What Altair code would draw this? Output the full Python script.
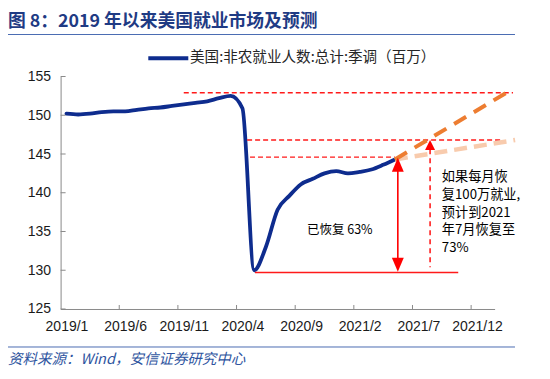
import altair as alt
import pandas as pd

# ---- data ----
months = list(range(29))  # month index, 0 = first point on the axis
employment = [150.2, 150.1, 150.2, 150.4, 150.5, 150.5, 150.7, 150.9, 151.0,
              151.2, 151.4, 151.6, 151.8, 152.2, 152.5, 150.9, 130.0, 133.0,
              137.8, 139.6, 141.1, 141.8, 142.5, 142.8, 142.5, 142.7, 143.0,
              143.6, 144.3]
tick_label_pos = [0, 5, 10, 15, 20, 25, 30, 35]
tick_labels = ["2019/1", "2019/6", "2019/11", "2020/4", "2020/9", "2021/2", "2021/7", "2021/12"]
x_tick_marks = [4.5, 9.5, 14.5, 19.5, 24.5, 29.5, 34.5]
y_ticks = [125, 130, 135, 140, 145, 150, 155]

# reference lines (level, start month, end month)
dash_levels = [152.9, 146.8, 144.6]
dash_start = [10.0, 15.4, 15.65]
dash_end = [38.07, 37.2, 28.0]
solid_level = 129.7
solid_start, solid_end = 16.07, 33.4

# projections (from the last data point)
proj_end_x = [37.5, 38.25]
proj_end_y = [152.9, 146.8]

# arrows
arrow1_x = 28.25
arrow2_x = 31.0

title = "图 8：2019 年以来美国就业市场及预测"
legend_label = "美国:非农就业人数:总计:季调（百万）"
footer = "资料来源：Wind，安信证券研究中心"
note1 = "已恢复 63%"
note2 = "如果每月恢\n复100万就业,\n预计到2021\n年7月恢复至\n73%"

W, H = 434, 232.5
xs = alt.Scale(domain=[-0.5, 36.5], nice=False, zero=False)
ys = alt.Scale(domain=[125, 155], nice=False, zero=False)

label_expr = "[" + ",".join("'%s'" % t for t in tick_labels) + "][round(datum.value/5)]"
x_axis = alt.Axis(values=tick_label_pos, labelExpr=label_expr, title=None, grid=False,
                  ticks=False, tickSize=0, labelPadding=11, labelFont="Liberation Sans",
                  labelFontSize=14, labelColor="#1a1a1a", domainColor="#8a8a8a",
                  labelFlush=False, labelOverlap=False)
y_axis = alt.Axis(values=y_ticks, title=None, grid=False, ticks=False, tickSize=0,
                  labelPadding=10, labelFont="Liberation Sans", labelFontSize=14,
                  labelColor="#1a1a1a", domainColor="#8a8a8a",
                  labelOverlap=False, labelFlush=False)


def X(f):
    return alt.X(f, scale=xs, axis=x_axis)


def Y(f):
    return alt.Y(f, scale=ys, axis=y_axis)


df = pd.DataFrame({"m": months, "v": employment})

base_line = alt.Chart(df).mark_line(color="#0E2C8E", strokeWidth=3.8, interpolate="monotone",
                                     strokeCap="round", strokeJoin="round").encode(
    x=X("m:Q"), y=Y("v:Q"))

xt = alt.Chart(pd.DataFrame({"t": x_tick_marks})).mark_rule(color="#8a8a8a", strokeWidth=1).encode(
    x=X("t:Q"), y=alt.value(H - 4), y2=alt.value(H))
yt = alt.Chart(pd.DataFrame({"t": y_ticks})).mark_rule(color="#8a8a8a", strokeWidth=1).encode(
    y=Y("t:Q"), x=alt.value(0), x2=alt.value(5))

dash_df = pd.DataFrame({"y": dash_levels, "x": dash_start, "x2": dash_end})
dashes = alt.Chart(dash_df).mark_rule(color="#FF1a1a", strokeWidth=1.4, strokeDash=[5, 3]).encode(
    x=X("x:Q"), x2="x2:Q", y=Y("y:Q"))
solid = alt.Chart(pd.DataFrame({"y": [solid_level], "x": [solid_start], "x2": [solid_end]})).mark_rule(
    color="#FF1a1a", strokeWidth=1.6).encode(x=X("x:Q"), x2="x2:Q", y=Y("y:Q"))

last_x, last_y = months[-1], employment[-1]
proj_dark = alt.Chart(pd.DataFrame({"x": [last_x], "y": [last_y], "x2": [proj_end_x[0]], "y2": [proj_end_y[0]]})).mark_rule(
    color="#ED7D31", strokeWidth=4, strokeDash=[14, 9]).encode(
    x=X("x:Q"), y=Y("y:Q"), x2="x2:Q", y2="y2:Q")
proj_light = alt.Chart(pd.DataFrame({"x": [last_x], "y": [last_y], "x2": [proj_end_x[1]], "y2": [proj_end_y[1]]})).mark_rule(
    color="#F8CBAD", strokeWidth=4.5, strokeDash=[13, 7]).encode(
    x=X("x:Q"), y=Y("y:Q"), x2="x2:Q", y2="y2:Q")

# solid double arrow
a1_line = alt.Chart(pd.DataFrame({"x": [arrow1_x], "y": [143.0], "y2": [131.2]})).mark_rule(
    color="#FF0000", strokeWidth=1.6).encode(x=X("x:Q"), y=Y("y:Q"), y2="y2:Q")
a1_up = alt.Chart(pd.DataFrame({"x": [arrow1_x], "y": [143.6]})).mark_point(
    shape="M0,-1L0.85,1L-0.85,1Z", size=196, filled=True, color="#FF0000", opacity=1).encode(
    x=X("x:Q"), y=Y("y:Q"))
a1_down = alt.Chart(pd.DataFrame({"x": [arrow1_x], "y": [130.7]})).mark_point(
    shape="M0,1L0.85,-1L-0.85,-1Z", size=196, filled=True, color="#FF0000", opacity=1).encode(
    x=X("x:Q"), y=Y("y:Q"))

# dashed single arrow
a2_line = alt.Chart(pd.DataFrame({"x": [arrow2_x], "y": [145.6], "y2": [130.4]})).mark_rule(
    color="#FF0000", strokeWidth=1.4, strokeDash=[5, 4]).encode(
    x=X("x:Q"), y=Y("y:Q"), y2="y2:Q")
a2_up = alt.Chart(pd.DataFrame({"x": [arrow2_x], "y": [146.15]})).mark_point(
    shape="M0,-1L1,1L-1,1Z", size=100, filled=True, color="#FF0000", opacity=1).encode(
    x=X("x:Q"), y=Y("y:Q"))

notes = pd.DataFrame({"x": [23.3, 32.0], "y": [135.2, 142.07], "t": [note1, note2]})
n1 = alt.Chart(notes.iloc[[0]]).mark_text(font="Noto Sans CJK SC", fontSize=12.5, color="#000000",
                                          align="center", baseline="middle").encode(
    x=X("x:Q"), y=Y("y:Q"), text="t:N")
n2 = alt.Chart(notes.iloc[[1]]).mark_text(font="Noto Sans CJK SC", fontSize=13.2, color="#000000",
                                          align="left", baseline="middle", lineBreak="\n",
                                          lineHeight=17.9).encode(
    x=X("x:Q"), y=Y("y:Q"), text="t:N")

one = pd.DataFrame({"k": [0]})
title_t = alt.Chart(one).mark_text(font="Noto Sans CJK SC", fontSize=17.8, fontWeight="bold",
                                   color="#1F3B84", align="left", baseline="middle").encode(
    x=alt.value(-52.6), y=alt.value(-55), text=alt.value(title))
hdr = alt.Chart(one).mark_rule(color="#4A6CB3", strokeWidth=1).encode(
    x=alt.value(-55.6), x2=alt.value(454.4), y=alt.value(-42))
ftr = alt.Chart(one).mark_rule(color="#4A6CB3", strokeWidth=1).encode(
    x=alt.value(-55.6), x2=alt.value(454.4), y=alt.value(270.5))
footer_t = alt.Chart(one).mark_text(font="Noto Sans CJK SC", fontSize=14.5, fontStyle="italic",
                                    color="#2E54A0", align="left", baseline="middle").encode(
    x=alt.value(-52.6), y=alt.value(283.5), text=alt.value(footer))
leg_line = alt.Chart(one).mark_rule(color="#0E2C8E", strokeWidth=4).encode(
    x=alt.value(87.7), x2=alt.value(127.7), y=alt.value(-18.2))
leg_text = alt.Chart(one).mark_text(font="Noto Sans CJK SC", fontSize=14.6, color="#262626",
                                    align="left", baseline="middle").encode(
    x=alt.value(129.4), y=alt.value(-18.2), text=alt.value(legend_label))

chart = alt.layer(
    base_line, dashes, solid, proj_light, proj_dark, xt, yt,
    a1_line, a1_up, a1_down, a2_line, a2_up, n1, n2,
    title_t, hdr, ftr, footer_t, leg_line, leg_text,
).properties(
    width=W, height=H,
    autosize=alt.AutoSizeParams(type="none"),
    padding={"left": 52.6, "top": 68.5, "right": 30, "bottom": 62},
).configure_view(stroke=None).configure_axis(labelOverlap=False)

chart.save("out.html", embed_options={"renderer": "svg", "actions": False})
